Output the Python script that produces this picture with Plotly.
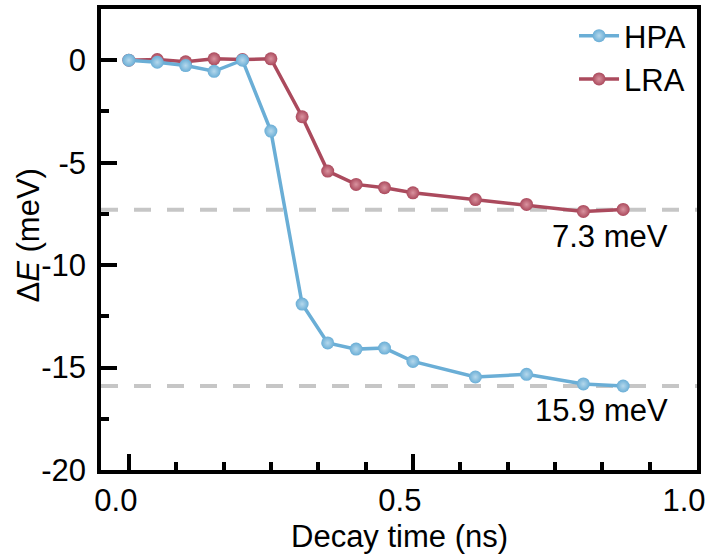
import plotly.graph_objects as go

# ---- data ----
decay_time = [0.0, 0.05, 0.10, 0.15, 0.20, 0.25, 0.305, 0.35, 0.40, 0.45, 0.50, 0.61, 0.70, 0.80, 0.87]
hpa = [0.0, -0.1, -0.26, -0.54, 0.0, -3.46, -11.9, -13.8, -14.1, -14.05, -14.7, -15.46, -15.33, -15.8, -15.9]
lra = [0.0, 0.03, -0.08, 0.07, 0.03, 0.07, -2.76, -5.41, -6.06, -6.22, -6.47, -6.8, -7.04, -7.38, -7.28]
ref_levels = [-7.3, -15.9]
ref_labels = ["7.3 meV", "15.9 meV"]
series_names = ["HPA", "LRA"]
x_ticks = [0, 0.5, 1.0]
x_ticklabels = ["0.0", "0.5", "1.0"]
y_ticks = [0, -5, -10, -15, -20]
y_ticklabels = ["0", "-5", "-10", "-15", "-20"]
x_title = "Decay time (ns)"
y_title = "Δ<i>E</i> (meV)"

BLUE = "#6AAED6"
RED = "#AB4A5D"
FONT = "Arial, Liberation Sans, sans-serif"
FS = 31

fig = go.Figure()
for name, ys, col, hl in [(series_names[1], lra, RED, "#D9939F"), (series_names[0], hpa, BLUE, "#B5D8EC")]:
    fig.add_trace(go.Scatter(
        x=decay_time, y=ys, name=name, mode="lines+markers",
        line=dict(color=col, width=3.5),
        marker=dict(size=13, color=col, gradient=dict(type="radial", color=hl)),
    ))

for lvl in ref_levels:
    fig.add_shape(type="line", xref="x domain", yref="y", x0=0, x1=1, y0=lvl, y1=lvl,
                  line=dict(color="#C6C6C6", width=4, dash="17px,16px"), layer="below")
for lvl, lab, ys in zip(ref_levels, ref_labels, [-27, -24]):
    fig.add_annotation(x=0.953, y=lvl, xref="x", yref="y", text=lab, showarrow=False,
                       xanchor="right", yanchor="middle", yshift=ys,
                       font=dict(family=FONT, size=FS, color="black"))

# axis titles
fig.add_annotation(x=0.5, y=0, xref="paper", yref="paper", text=x_title, showarrow=False,
                   xanchor="center", yanchor="middle", yshift=-66,
                   font=dict(family=FONT, size=FS, color="black"))
fig.add_annotation(x=0, y=0.5, xref="paper", yref="paper", text=y_title, showarrow=False,
                   xanchor="center", yanchor="middle", xshift=-73, yshift=4, textangle=-90,
                   font=dict(family=FONT, size=FS, color="black"))

axis_common = dict(showline=True, linecolor="black", linewidth=3.5, mirror=True,
                   ticks="inside", tickwidth=3.5, ticklen=16, tickcolor="black",
                   showgrid=False, zeroline=False,
                   tickfont=dict(family=FONT, size=FS, color="black"))

fig.update_xaxes(range=[-0.049, 1.0], tickvals=x_ticks, ticktext=x_ticklabels,
                 minor=dict(ticks="inside", ticklen=8, tickwidth=3.5, tickcolor="black", dtick=0.5 / 6, tick0=0),
                 ticklabelshift=-13, ticklabelstandoff=0,
                 **axis_common)
fig.update_yaxes(range=[-20, 2.5], tickvals=y_ticks, ticktext=y_ticklabels,
                 minor=dict(ticks="inside", ticklen=8, tickwidth=3.5, tickcolor="black", dtick=2.5, tick0=0),
                 ticklabelstandoff=5,
                 **axis_common)

fig.update_layout(
    width=712, height=554,
    margin=dict(l=101, r=15, t=9, b=84, autoexpand=False),
    paper_bgcolor="white", plot_bgcolor="white",
    font=dict(family=FONT, size=FS, color="black"),
    legend=dict(x=0.99, y=1.0, xanchor="right", yanchor="top", bgcolor="rgba(0,0,0,0)",
                traceorder="reversed", font=dict(family=FONT, size=FS, color="black"),
                tracegroupgap=0, itemwidth=40),
    showlegend=True,
)

fig.write_html("out.html")
